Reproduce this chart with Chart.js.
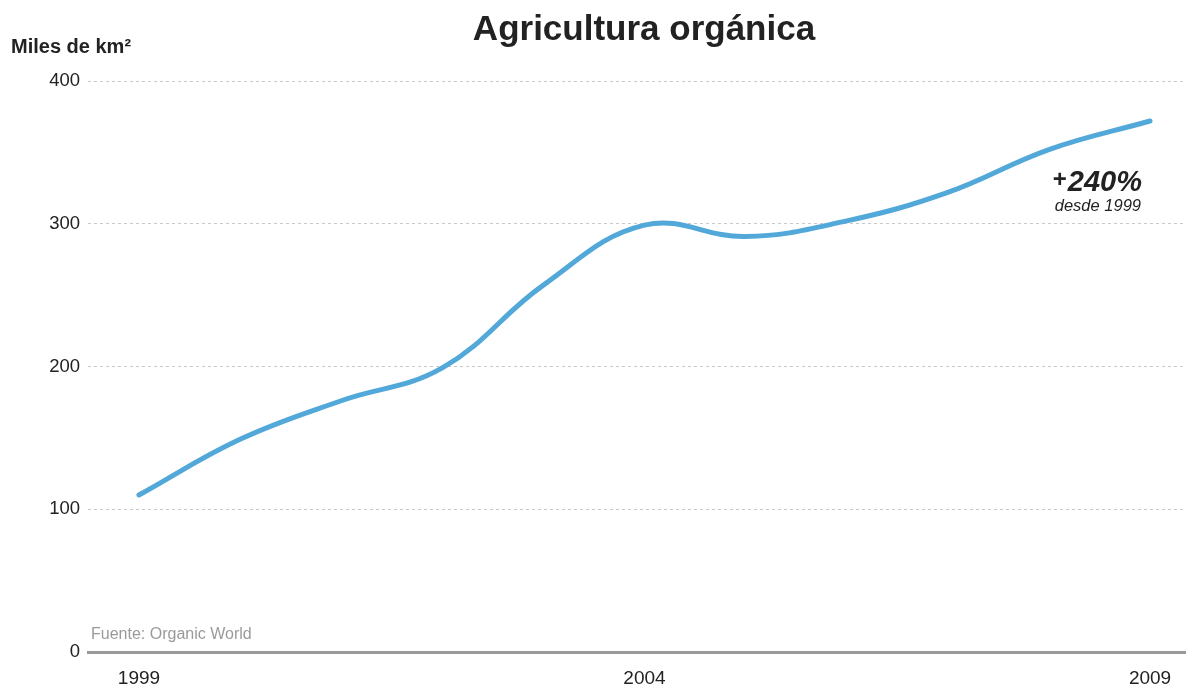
<!DOCTYPE html>
<html lang="es">
<head>
<meta charset="utf-8">
<title>Agricultura orgánica</title>
<script src="https://cdn.jsdelivr.net/npm/chart.js@4.4.1/dist/chart.umd.min.js"></script>
<style>
  html, body { margin: 0; padding: 0; background: #fff; }
  #caja { width: 1187px; height: 684px; position: relative; }
</style>
</head>
<body>
<div id="caja"><canvas id="grafico"></canvas></div>
<script>
const anos = [1999, 2000, 2001, 2002, 2003, 2004, 2005, 2006, 2007, 2008, 2009];
const superficie = [110, 149, 176, 199, 257, 299, 291, 302, 322, 352, 372];
const ticksX = [1999, 2004, 2009];
const ticksY = [0, 100, 200, 300, 400];

const titulo = "Agricultura orgánica";
const unidad = "Miles de km²";
const fuente = "Fuente: Organic World";
const aumento = "240%";
const desde = "desde 1999";

const fuenteBase = '"Liberation Sans", Arial, Helvetica, sans-serif';

const textos = {
  id: "textos",
  afterDraw(chart) {
    const { ctx, chartArea } = chart;
    ctx.save();
    ctx.fillStyle = "#222";
    ctx.textBaseline = "middle";

    ctx.font = "bold 35px " + fuenteBase;
    ctx.textAlign = "center";
    ctx.fillText(titulo, 644, 30);

    ctx.font = "bold 20px " + fuenteBase;
    ctx.textAlign = "left";
    ctx.fillText(unidad, 11, 47);

    ctx.fillStyle = "#9a9a9a";
    ctx.font = "16px " + fuenteBase;
    ctx.fillText(fuente, chartArea.left + 3, 635);

    // anotación del aumento
    ctx.fillStyle = "#222";
    ctx.textAlign = "right";
    ctx.font = "italic bold 29px " + fuenteBase;
    ctx.fillText(aumento, 1142, 183);
    const w = ctx.measureText(aumento).width;
    ctx.font = "bold 24px " + fuenteBase;
    ctx.fillText("+", 1142 - w - 1, 180);
    ctx.font = "italic 16.5px " + fuenteBase;
    ctx.fillText(desde, 1141, 206);
    ctx.restore();
  },
};

new Chart(document.getElementById("grafico"), {
  type: "line",
  data: {
    labels: anos,
    datasets: [
      {
        label: "Superficie",
        data: anos.map((a, i) => ({ x: a, y: superficie[i] })),
        borderColor: "#52a8d8",
        borderWidth: 5,
        borderCapStyle: "round",
        pointRadius: 0,
        tension: 0.4,
        fill: false,
      },
    ],
  },
  options: {
    responsive: true,
    maintainAspectRatio: false,
    animation: false,
    layout: { padding: { top: 81, right: 2, left: 0, bottom: 0 } },
    plugins: {
      legend: { display: false },
      tooltip: { enabled: false },
      title: { display: false },
    },
    scales: {
      x: {
        type: "linear",
        min: 1998.496,
        max: 2009.346,
        afterBuildTicks: (eje) => {
          eje.ticks = ticksX.map((v) => ({ value: v }));
        },
        afterFit: (eje) => {
          eje.height = 32;
        },
        grid: { display: false, drawTicks: false },
        border: { display: true, color: "#999", width: 3 },
        ticks: {
          padding: 15,
          color: "#222",
          font: { size: 19, family: fuenteBase },
          callback: (v) => String(v),
          maxRotation: 0,
        },
      },
      y: {
        min: 0,
        max: 400,
        afterBuildTicks: (eje) => {
          eje.ticks = ticksY.map((v) => ({ value: v }));
        },
        afterFit: (eje) => {
          eje.width = 88;
        },
        grid: { color: "#c8c8c8", lineWidth: 1, drawTicks: false },
        border: { display: false, dash: [3, 3] },
        ticks: {
          padding: 8,
          color: "#222",
          font: { size: 18.5, family: fuenteBase },
        },
      },
    },
  },
  plugins: [textos],
});
</script>
</body>
</html>
